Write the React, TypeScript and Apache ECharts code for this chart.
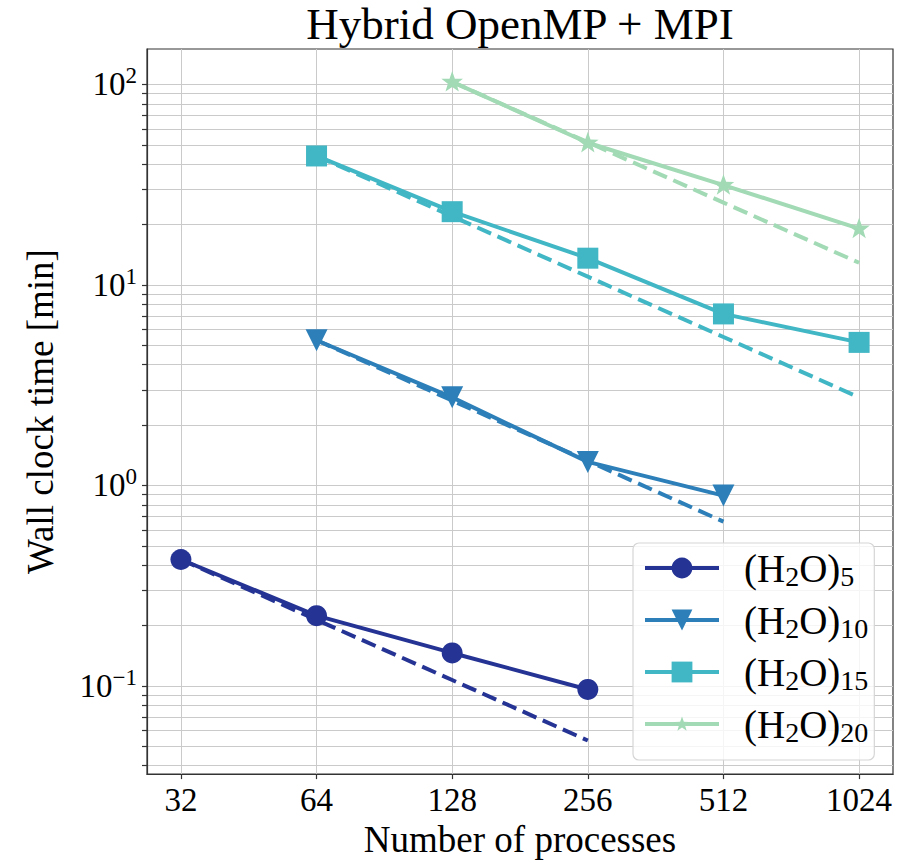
import React, { useEffect, useRef } from 'react';
import * as echarts from 'echarts';

// ---------------- data ----------------
const processes = [32, 64, 128, 256, 512, 1024];
const seriesNames = ['(H2O)5', '(H2O)10', '(H2O)15', '(H2O)20'];
const subscripts = ['5', '10', '15', '20'];

// wall clock time [min], null = no measurement
const h2o5Measured = [0.427, 0.224, 0.146, 0.096, null, null];
const h2o5Ideal = [0.427, 0.2135, 0.107, 0.0534, null, null];
const h2o10Measured = [null, 5.3, 2.75, 1.31, 0.89, null];
const h2o10Ideal = [null, 5.3, 2.65, 1.325, 0.66, null];
const h2o15Measured = [null, 44, 23.2, 13.6, 7.17, 5.17];
const h2o15Ideal = [null, 44, 22, 11, 5.5, 2.75];
const h2o20Measured = [null, null, 103, 51.2, 31.5, 19.1];
const h2o20Ideal = [null, null, 103, 51.5, 25.75, 12.9];

const xTickLabels = ['32', '64', '128', '256', '512', '1024'];
const yMajorExponents = [-1, 0, 1, 2];
const yMinorDecades = [-2, -1, 0, 1];
const yMinorMultipliers = [2, 3, 4, 5, 6, 7, 8, 9];

const measured = [h2o5Measured, h2o10Measured, h2o15Measured, h2o20Measured];
const ideal = [h2o5Ideal, h2o10Ideal, h2o15Ideal, h2o20Ideal];
const colors = ['#253494', '#2c7fb8', '#41b6c4', '#a1dab4'];

const FONT = '"Liberation Serif", "Times New Roman", serif';

// axis ranges in log space (matplotlib-style 5% margins)
const X_MIN = 4.75;
const X_MAX = 10.25;
const Y_MIN = -1.44;
const Y_MAX = 2.177;

// star marker shape (padded so it renders smaller than its box)
const starPath = (() => {
  const pts: string[] = [];
  for (let i = 0; i < 10; i++) {
    const r = i % 2 === 0 ? 50 : 20;
    const a = -Math.PI / 2 + (i * Math.PI) / 5;
    pts.push(`${(50 + r * Math.cos(a)).toFixed(2)} ${(52 + r * Math.sin(a)).toFixed(2)}`);
  }
  return 'path://M' + pts.join(' L') + ' Z M-16 -16 M116 116';
})();

const symbols = ['circle', 'triangle', 'rect', starPath];
const symbolRotates = [0, 180, 0, 0];
const symbolSizes = [21, 22, 21, 30];

const toPoints = (vals: (number | null)[]) =>
  processes
    .map((p, i) => (vals[i] == null ? null : [Math.log2(p), Math.log10(vals[i] as number)]))
    .filter((d) => d !== null) as number[][];

export default function App() {
  const ref = useRef<HTMLDivElement>(null);

  useEffect(() => {
    if (!ref.current) return;
    const chart = echarts.init(ref.current, undefined, { renderer: 'svg' });

    const yAllTicks: number[] = [];
    yMajorExponents.forEach((e) => yAllTicks.push(e));
    yMinorDecades.forEach((d) =>
      yMinorMultipliers.forEach((m) => {
        const v = d + Math.log10(m);
        if (v > Y_MIN && v < Y_MAX) yAllTicks.push(v);
      })
    );
    yAllTicks.sort((a, b) => a - b);

    const xTickValues = processes.map((p) => Math.log2(p));

    const series: any[] = [];
    seriesNames.forEach((name, i) => {
      series.push({
        name,
        type: 'line',
        data: toPoints(measured[i]),
        symbol: symbols[i],
        symbolSize: symbolSizes[i],
        symbolRotate: symbolRotates[i],
        showSymbol: true,
        lineStyle: { color: colors[i], width: 4 },
        itemStyle: { color: colors[i], borderWidth: 0 },
        z: 3,
        silent: true,
      });
      series.push({
        name: name + ' ideal',
        type: 'line',
        data: toPoints(ideal[i]),
        symbol: 'none',
        lineStyle: { color: colors[i], width: 4, type: [15, 7] },
        itemStyle: { color: colors[i] },
        z: 3,
        silent: true,
      });
    });

    const richLegend: any = {
      g: { width: 20, fontFamily: FONT, fontSize: 39, lineHeight: 44 },
      m: { fontFamily: FONT, fontSize: 39, lineHeight: 44, color: '#000', verticalAlign: 'middle' },
      s: { fontFamily: FONT, fontSize: 28, lineHeight: 24, color: '#000', verticalAlign: 'bottom' },
    };

    chart.setOption({
      animation: false,
      backgroundColor: '#fff',
      textStyle: { fontFamily: FONT, color: '#000' },
      graphic: [
        {
          type: 'text',
          x: 520,
          y: 24,
          silent: true,
          style: {
            text: 'Hybrid OpenMP + MPI',
            fontSize: 45,
            fontFamily: FONT,
            fill: '#000',
            align: 'center',
            verticalAlign: 'middle',
          },
        },
      ],
      grid: {
        left: 147,
        right: 16,
        top: 49,
        bottom: 86,
        show: true,
        borderColor: '#333',
        borderWidth: 1.2,
        backgroundColor: 'transparent',
      },
      legend: {
        data: seriesNames,
        orient: 'vertical',
        left: 633,
        top: 543,
        padding: [3, 6, 14, 10],
        itemWidth: 74,
        itemHeight: 26,
        itemGap: 8,
        selectedMode: false,
        backgroundColor: 'rgba(255,255,255,0.8)',
        borderColor: '#d6d6d6',
        borderWidth: 1.2,
        borderRadius: 6,
        lineStyle: { width: 4 },
        formatter: (name: string) => {
          const i = seriesNames.indexOf(name);
          return '{g|}{m|(H}{s|2}{m|O)}{s|' + subscripts[i] + '}';
        },
        textStyle: { fontFamily: FONT, fontSize: 39, lineHeight: 44, color: '#000', rich: richLegend },
      },
      xAxis: {
        type: 'value',
        min: X_MIN,
        max: X_MAX,
        name: 'Number of processes',
        nameLocation: 'middle',
        nameGap: 33,
        nameTextStyle: { fontFamily: FONT, fontSize: 37, color: '#000' },
        axisLine: { show: true, onZero: false, lineStyle: { color: '#333', width: 1.2 } },
        axisTick: { show: true, inside: false, length: 5, customValues: xTickValues, lineStyle: { color: '#333', width: 1.2 } },
        axisLabel: {
          customValues: xTickValues,
          margin: 9,
          fontSize: 33,
          fontFamily: FONT,
          color: '#000',
          formatter: (v: number) => xTickLabels[xTickValues.findIndex((t) => Math.abs(t - v) < 1e-6)] ?? '',
        },
        splitLine: { show: true, lineStyle: { color: '#cacaca', width: 1 } },
      },
      yAxis: {
        type: 'value',
        min: Y_MIN,
        max: Y_MAX,
        name: 'Wall clock time [min]',
        nameLocation: 'middle',
        nameGap: 88,
        nameTextStyle: { fontFamily: FONT, fontSize: 37, color: '#000' },
        axisLine: { show: true, onZero: false, lineStyle: { color: '#333', width: 1.2 } },
        axisTick: { show: true, inside: false, length: 5, customValues: yAllTicks, lineStyle: { color: '#333', width: 1.2 } },
        axisLabel: {
          customValues: yMajorExponents,
          margin: 10,
          fontFamily: FONT,
          color: '#000',
          formatter: (v: number) => {
            const e = Math.round(v);
            return '{b|10}{sup|' + (e < 0 ? '\u2212' + -e : String(e)) + '}';
          },
          rich: {
            b: { fontFamily: FONT, fontSize: 33, lineHeight: 40, color: '#000', verticalAlign: 'middle' },
            sup: { fontFamily: FONT, fontSize: 23, lineHeight: 24, color: '#000', verticalAlign: 'top' },
          },
        },
        splitLine: { show: true, lineStyle: { color: '#cacaca', width: 1 } },
      },
      series,
    });

    return () => chart.dispose();
  }, []);

  return (
    <div
      ref={ref}
      style={{ position: 'absolute', left: 0, top: 0, width: 909, height: 863, background: '#fff' }}
    />
  );
}
